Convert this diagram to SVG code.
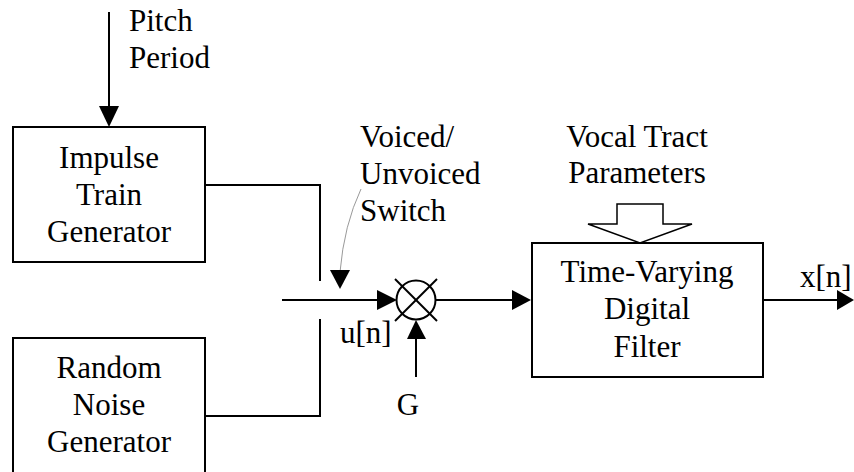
<svg xmlns="http://www.w3.org/2000/svg" width="854" height="472" viewBox="0 0 854 472">
<style>
text{font-family:'Liberation Serif','DejaVu Serif',serif;font-size:31px;fill:#000}
.c{text-anchor:middle}
.box{fill:#fff;stroke:#000;stroke-width:2}
.ln{fill:none;stroke:#000;stroke-width:2}
.ah{fill:#000;stroke:none}
</style>
<rect width="854" height="472" fill="#fff"/>
<g id="connectors">
<line class="ln" x1="109" y1="12" x2="109" y2="108"/>
<polygon class="ah" points="99,106 119,106 109,127"/>
<polyline class="ln" points="205,185 320,185 320,281"/>
<polyline class="ln" points="320,319 320,416 205,416"/>
<line class="ln" x1="282" y1="300" x2="379" y2="300"/>
<polygon class="ah" points="377,290 377,310 397,300"/>
<path d="M361,189 Q344,225 340,272" fill="none" stroke="#999" stroke-width="1"/>
<polygon class="ah" points="330,270 350,270 340,289"/>
<line class="ln" x1="416" y1="377" x2="416" y2="337"/>
<polygon class="ah" points="407,339 426,339 416,320"/>
<line class="ln" x1="436" y1="300" x2="514" y2="300"/>
<polygon class="ah" points="512,290 512,310 531,300"/>
<line class="ln" x1="763" y1="300" x2="839" y2="300"/>
<polygon class="ah" points="837,290 837,310 854,300"/>
<polygon points="617,204 663,204 663,224 692,224 640,243 588,224 617,224" fill="#fff" stroke="#000" stroke-width="1.5"/>
</g>
<g id="pitch-label" font-family="Liberation Serif, serif">
<text x="129" y="31">Pitch</text>
<text x="129" y="68">Period</text>
</g>
<g id="impulse">
<rect class="box" x="13" y="127" width="192" height="135"/>
<text class="c" x="109" y="168">Impulse</text>
<text class="c" x="109" y="205">Train</text>
<text class="c" x="109" y="242">Generator</text>
</g>
<g id="noise">
<rect class="box" x="13" y="338" width="192" height="140"/>
<text class="c" x="109" y="378">Random</text>
<text class="c" x="109" y="415">Noise</text>
<text class="c" x="109" y="452">Generator</text>
</g>
<g id="switch-label">
<text x="360" y="147">Voiced/</text>
<text x="360" y="184">Unvoiced</text>
<text x="360" y="221">Switch</text>
</g>
<g id="multiplier">
<circle cx="416" cy="300" r="19.5" fill="#fff" stroke="#000" stroke-width="2"/>
<line class="ln" x1="395" y1="279" x2="437" y2="321"/>
<line class="ln" x1="437" y1="279" x2="395" y2="321"/>
</g>
<g id="labels">
<text x="340" y="343">u[n]</text>
<text class="c" x="408" y="415">G</text>
<text x="800" y="287">x[n]</text>
</g>
<g id="vocal-label">
<text class="c" x="637" y="147">Vocal Tract</text>
<text class="c" x="637" y="183">Parameters</text>
</g>
<g id="filter">
<rect class="box" x="532" y="243" width="231" height="134"/>
<text class="c" x="647" y="282">Time-Varying</text>
<text class="c" x="647" y="319">Digital</text>
<text class="c" x="647" y="357">Filter</text>
</g>
</svg>
